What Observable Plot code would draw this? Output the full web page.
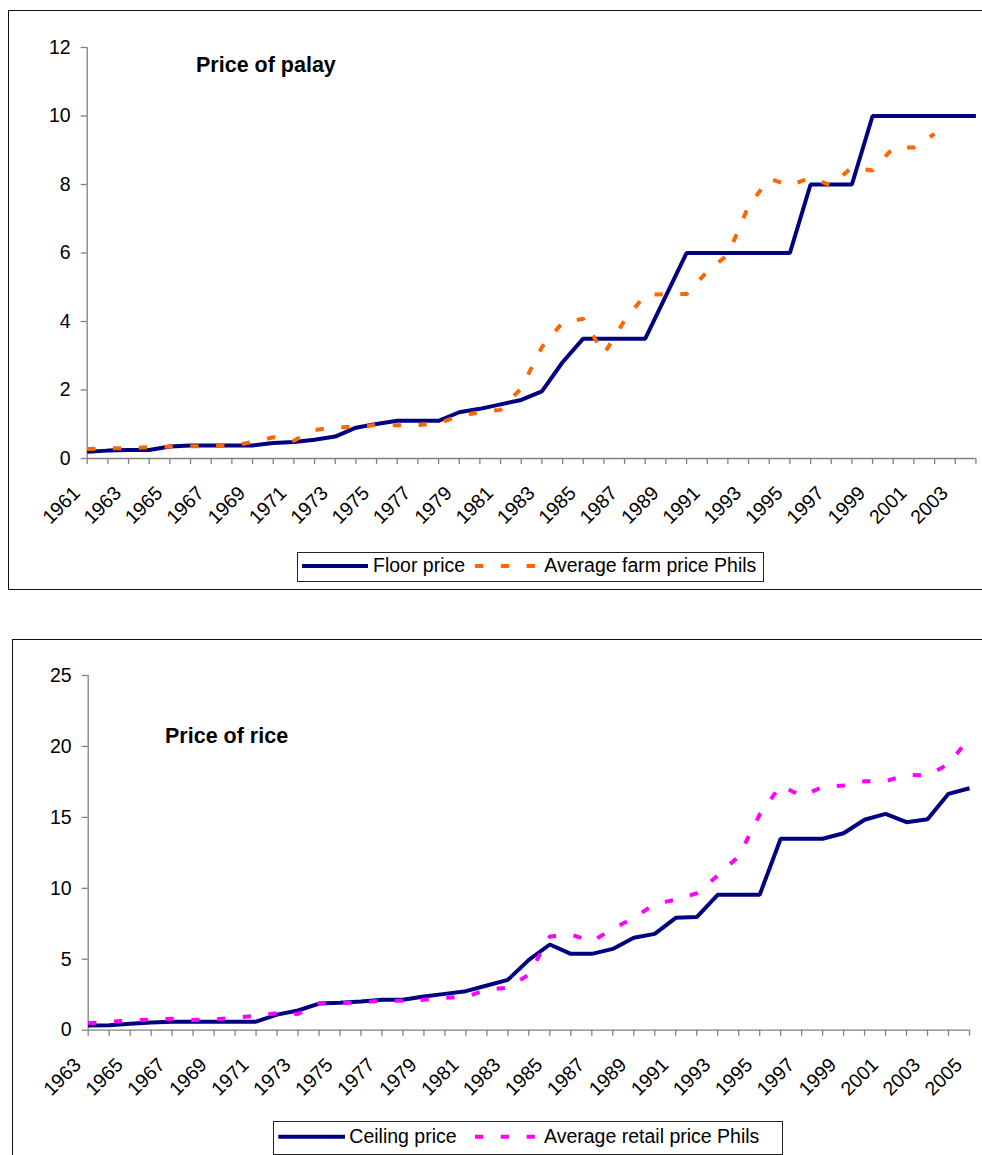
<!DOCTYPE html>
<html>
<head>
<meta charset="utf-8">
<script src="https://cdn.jsdelivr.net/npm/d3@7"></script>
<script src="https://cdn.jsdelivr.net/npm/@observablehq/plot@0.6"></script>
<style>
  html, body { margin: 0; padding: 0; width: 982px; height: 1155px; overflow: hidden; background: #fff;
    font-family: "Liberation Sans", Arial, sans-serif; }
  .frame { position: absolute; border: 1px solid #111; box-sizing: border-box; }
  .chart { position: absolute; left: 0; }
  .title { position: absolute; font-size: 21.5px; line-height: 21.5px; font-weight: bold; white-space: nowrap; color: #000; }
  .legend { position: absolute; border: 1px solid #222; box-sizing: border-box; background: #fff; }
  .lt { position: absolute; font-size: 19.5px; line-height: 19.5px; white-space: nowrap; color: #000; }
  .sw { position: absolute; overflow: visible; }
</style>
</head>
<body>
<div class="frame" style="left:8px;top:10px;width:1000px;height:580px"></div>
<div class="frame" style="left:12px;top:639px;width:1000px;height:600px"></div>
<div id="topChart" class="chart" style="top:0px"></div>
<div id="botChart" class="chart" style="top:600px"></div>
<div class="title" style="left:196px;top:54.5px">Price of palay</div>
<div class="title" style="left:165px;top:725.8px">Price of rice</div>
<div id="legends"></div>
<script>
// ---------- Data: Price of palay ----------
const palayYears = [1961,1962,1963,1964,1965,1966,1967,1968,1969,1970,
  1971,1972,1973,1974,1975,1976,1977,1978,1979,1980,
  1981,1982,1983,1984,1985,1986,1987,1988,1989,1990,
  1991,1992,1993,1994,1995,1996,1997,1998,1999,2000,
  2001,2002,2003,2004];
const palayLabels = [1961,1963,1965,1967,1969,1971,1973,1975,1977,1979,1981,
  1983,1985,1987,1989,1991,1993,1995,1997,1999,2001,2003];
const floorPrice = [0.2,0.23,0.25,0.25,0.35,0.38,0.38,0.38,0.38,0.45,
  0.48,0.55,0.64,0.9,1.01,1.1,1.1,1.1,1.35,1.45,
  1.58,1.71,1.96,2.81,3.5,3.5,3.5,3.5,4.75,6,
  6,6,6,6,6,8,8,8,10,10,
  10,10,10,10];
const farmPrice = [0.28,0.3,0.3,0.33,0.35,0.36,0.36,0.37,0.48,0.62,
  0.52,0.83,0.91,0.92,0.98,0.97,0.98,1.03,1.24,1.35,
  1.42,2.05,3.25,3.97,4.08,3.05,4.03,4.78,4.8,4.8,
  5.46,5.95,7.37,8.17,7.97,8.2,7.97,8.5,8.41,9.07,
  9.08,9.48,null,null];
const palayYTicks = [0,2,4,6,8,10,12];
const palaySeries = ["Floor price", "Average farm price Phils"];

// ---------- Data: Price of rice ----------
const riceYears = [1963,1964,1965,1966,1967,1968,1969,1970,1971,1972,
  1973,1974,1975,1976,1977,1978,1979,1980,1981,1982,
  1983,1984,1985,1986,1987,1988,1989,1990,1991,1992,
  1993,1994,1995,1996,1997,1998,1999,2000,2001,2002,
  2003,2004,2005];
const riceLabels = [1963,1965,1967,1969,1971,1973,1975,1977,1979,1981,1983,
  1985,1987,1989,1991,1993,1995,1997,1999,2001,2003,2005];
const ceilingPrice = [0.33,0.35,0.45,0.54,0.59,0.6,0.6,0.6,0.6,1.1,
  1.39,1.88,1.93,2.02,2.14,2.14,2.37,2.56,2.75,3.15,
  3.55,4.96,6.04,5.38,5.38,5.73,6.51,6.79,7.92,7.97,
  9.54,9.54,9.54,13.49,13.49,13.49,13.88,14.83,15.25,14.66,
  14.87,16.66,17.05];
const retailPrice = [0.5,0.58,0.7,0.75,0.8,0.72,0.75,0.88,1.02,1.2,
  1.15,1.88,1.92,1.95,2.09,2.07,2.15,2.28,2.36,2.85,
  3.0,3.92,6.6,6.75,6.25,7.15,7.9,8.9,9.2,9.65,
  10.9,12.25,15.2,17.25,16.5,17.15,17.25,17.55,17.55,18.0,
  17.95,18.75,20.6];
const riceYTicks = [0,5,10,15,20,25];
const riceSeries = ["Ceiling price", "Average retail price Phils"];

// ---------- Styles ----------
const NAVY = "#000080", ORANGE = "#FF6600", MAGENTA = "#FF00FF", GRAY = "#808080";
const DASH = "8.3,17.5";
const FONT = "Liberation Sans, Arial, sans-serif";

function makeChart(cfg) {
  const rows = cfg.years.map((year, i) => ({year, solid: cfg.solid[i], dashed: cfg.dashed[i]}));
  return Plot.plot({
    width: 982,
    height: cfg.height,
    marginTop: cfg.mt, marginBottom: cfg.mb, marginLeft: cfg.ml, marginRight: cfg.mr,
    style: {background: "transparent", fontFamily: FONT, overflow: "visible"},
    x: {type: "linear", domain: [cfg.years[0], cfg.years[cfg.years.length - 1]]},
    y: {domain: [0, cfg.yTicks[cfg.yTicks.length - 1]]},
    marks: [
      Plot.ruleY([0], {stroke: GRAY, strokeWidth: 1.3}),
      Plot.ruleX([cfg.years[0]], {stroke: GRAY, strokeWidth: 1.3}),
      Plot.axisY({ticks: cfg.yTicks, tickSize: 6, tickPadding: 10.5, stroke: GRAY, strokeWidth: 1.3,
        fill: "black", fontSize: 19.5, tickFormat: d => String(d), label: null}),
      Plot.axisX({ticks: cfg.years, tickSize: 6, stroke: GRAY, strokeWidth: 1.3, fill: "none",
        tickFormat: () => "", label: null}),
      Plot.text(cfg.labels, {x: d => d, y: () => 0, text: d => String(d), rotate: -45,
        textAnchor: "end", lineAnchor: "middle", fontSize: 19.5, fill: "black", dx: -10.5, dy: 31.5}),
      Plot.line(rows, {x: "year", y: "solid", stroke: NAVY, strokeWidth: 4,
        strokeLinejoin: "miter", strokeLinecap: "butt"}),
      Plot.line(rows.filter(r => r.dashed != null), {x: "year", y: "dashed", stroke: cfg.dashColor, strokeWidth: 4,
        strokeDasharray: DASH, strokeLinejoin: "miter", strokeLinecap: "butt"})
    ]
  });
}

document.getElementById("topChart").append(makeChart({
  years: palayYears, labels: palayLabels, solid: floorPrice, dashed: farmPrice,
  yTicks: palayYTicks, dashColor: ORANGE,
  height: 589, mt: 47, mb: 131, ml: 86.7, mr: 6.6
}));

document.getElementById("botChart").append(makeChart({
  years: riceYears, labels: riceLabels, solid: ceilingPrice, dashed: retailPrice,
  yTicks: riceYTicks, dashColor: MAGENTA,
  height: 555, mt: 75, mb: 125.3, ml: 87.7, mr: 13
}));

// ---------- Legends ----------
function addLegend(box, names, dashColor) {
  const host = document.getElementById("legends");
  const b = document.createElement("div");
  b.className = "legend";
  Object.assign(b.style, {left: box.left + "px", top: box.top + "px", width: box.width + "px", height: box.height + "px"});
  host.append(b);
  const svgNS = "http://www.w3.org/2000/svg";
  function swatch(x1, x2, y, color, dash) {
    const s = document.createElementNS(svgNS, "svg");
    s.setAttribute("class", "sw");
    s.setAttribute("width", 982); s.setAttribute("height", 1155);
    s.style.left = "0px"; s.style.top = "0px";
    const l = document.createElementNS(svgNS, "line");
    l.setAttribute("x1", x1); l.setAttribute("x2", x2); l.setAttribute("y1", y); l.setAttribute("y2", y);
    l.setAttribute("stroke", color); l.setAttribute("stroke-width", 4);
    if (dash) l.setAttribute("stroke-dasharray", dash);
    host.append(s); s.append(l);
  }
  function label(x, baseline, txt) {
    const t = document.createElement("div");
    t.className = "lt";
    t.textContent = txt;
    t.style.left = x + "px";
    t.style.top = (baseline - 0.8465 * 19.5) + "px";
    host.append(t);
  }
  swatch(box.sw1[0], box.sw1[1], box.cy, NAVY, null);
  label(box.t1, box.base, names[0]);
  swatch(box.sw2[0], box.sw2[1], box.cy, dashColor, DASH);
  label(box.t2, box.base, names[1]);
}

addLegend({left: 297, top: 552, width: 467, height: 30, cy: 566, base: 573,
  sw1: [302, 368], t1: 373, sw2: [475, 535], t2: 544.3}, palaySeries, ORANGE);
addLegend({left: 273, top: 1121, width: 510, height: 34, cy: 1136.7, base: 1143.3,
  sw1: [278.3, 345], t1: 349.3, sw2: [475, 535], t2: 544}, riceSeries, MAGENTA);
</script>
</body>
</html>
